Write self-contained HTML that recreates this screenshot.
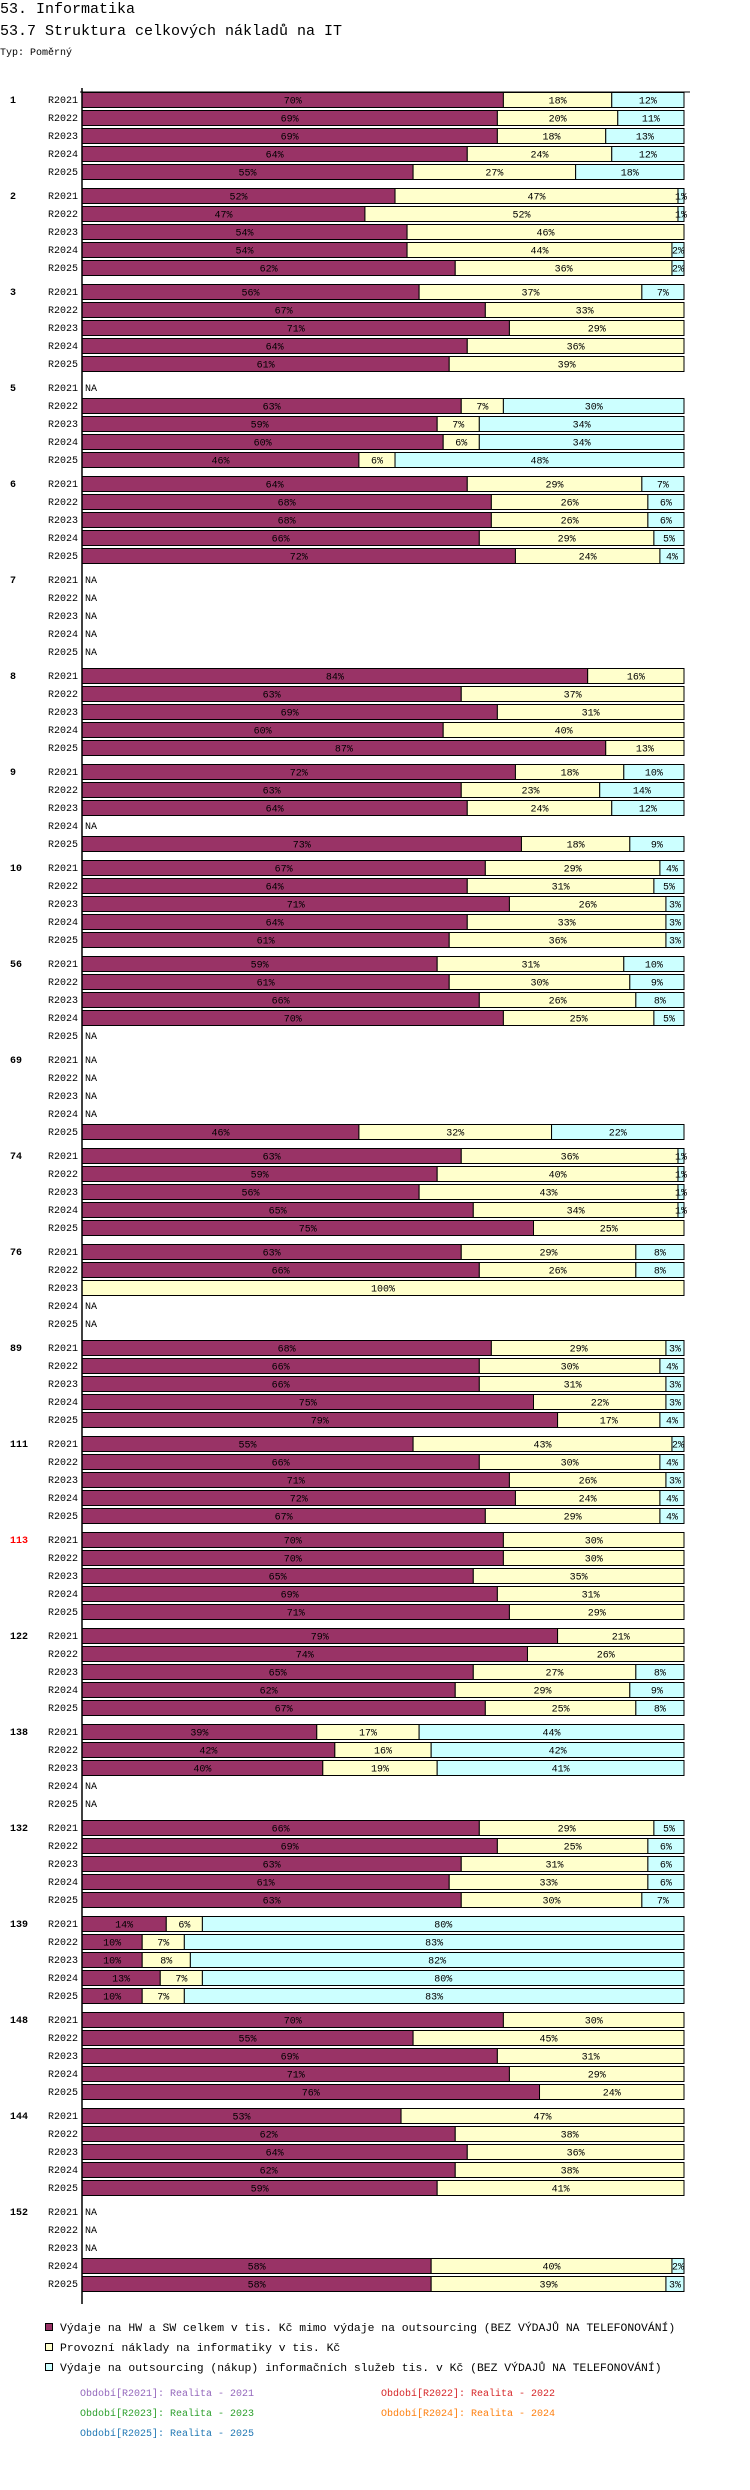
<!DOCTYPE html>
<html><head><meta charset="utf-8"><style>
html,body{margin:0;padding:0;background:#fff;width:750px;height:2490px;overflow:hidden}
svg{display:block}
text{font-family:"Liberation Mono",monospace}
</style></head><body>
<svg id="chart" width="750" height="2490" xmlns="http://www.w3.org/2000/svg">
<text x="0" y="13" font-size="15">53. Informatika</text>
<text x="0" y="35" font-size="15">53.7 Struktura celkových nákladů na IT</text>
<text x="0" y="55" font-size="10">Typ: Poměrný</text>
<g id="bars"></g>
<line x1="82" y1="88" x2="82" y2="2304" stroke="#000" stroke-width="1.5"/>
<line x1="80" y1="92" x2="690" y2="92" stroke="#000" stroke-width="1"/>
<g font-size="11.4">
<rect x="45.5" y="2323.5" width="7" height="7" fill="#993366" stroke="#000"/>
<text x="60" y="2331">Výdaje na HW a SW celkem v tis. Kč mimo výdaje na outsourcing (BEZ VÝDAJŮ NA TELEFONOVÁNÍ)</text>
<rect x="45.5" y="2343.5" width="7" height="7" fill="#ffffcc" stroke="#000"/>
<text x="60" y="2351">Provozní náklady na informatiky v tis. Kč</text>
<rect x="45.5" y="2363.5" width="7" height="7" fill="#ccffff" stroke="#000"/>
<text x="60" y="2371">Výdaje na outsourcing (nákup) informačních služeb tis. v Kč (BEZ VÝDAJŮ NA TELEFONOVÁNÍ)</text>
</g>
<g font-size="10">
<text x="80" y="2396" fill="#9467bd">Období[R2021]: Realita - 2021</text>
<text x="381" y="2396" fill="#d62728">Období[R2022]: Realita - 2022</text>
<text x="80" y="2416" fill="#2ca02c">Období[R2023]: Realita - 2023</text>
<text x="381" y="2416" fill="#ff7f0e">Období[R2024]: Realita - 2024</text>
<text x="80" y="2436" fill="#1f77b4">Období[R2025]: Realita - 2025</text>
</g>
</svg>
<script>
const groupLabels = ["1","2","3","5","6","7","8","9","10","56","69","74","76","89","111","113","122","138","132","139","148","144","152"];
const years = ["R2021","R2022","R2023","R2024","R2025"];
const N = null;
const hwSw = [
70,69,69,64,55, 52,47,54,54,62, 56,67,71,64,61, N,63,59,60,46, 64,68,68,66,72,
N,N,N,N,N, 84,63,69,60,87, 72,63,64,N,73, 67,64,71,64,61, 59,61,66,70,N,
N,N,N,N,46, 63,59,56,65,75, 63,66,0,N,N, 68,66,66,75,79, 55,66,71,72,67,
70,70,65,69,71, 79,74,65,62,67, 39,42,40,N,N, 66,69,63,61,63, 14,10,10,13,10,
70,55,69,71,76, 53,62,64,62,59, N,N,N,58,58];
const provozni = [
18,20,18,24,27, 47,52,46,44,36, 37,33,29,36,39, N,7,7,6,6, 29,26,26,29,24,
N,N,N,N,N, 16,37,31,40,13, 18,23,24,N,18, 29,31,26,33,36, 31,30,26,25,N,
N,N,N,N,32, 36,40,43,34,25, 29,26,100,N,N, 29,30,31,22,17, 43,30,26,24,29,
30,30,35,31,29, 21,26,27,29,25, 17,16,19,N,N, 29,25,31,33,30, 6,7,8,7,7,
30,45,31,29,24, 47,38,36,38,41, N,N,N,40,39];
const outsourcing = [
12,11,13,12,18, 1,1,0,2,2, 7,0,0,0,0, N,30,34,34,48, 7,6,6,5,4,
N,N,N,N,N, 0,0,0,0,0, 10,14,12,N,9, 4,5,3,3,3, 10,9,8,5,N,
N,N,N,N,22, 1,1,1,1,0, 8,8,0,N,N, 3,4,3,3,4, 2,4,3,4,4,
0,0,0,0,0, 0,0,8,9,8, 44,42,41,N,N, 5,6,6,6,7, 80,83,82,80,83,
0,0,0,0,0, 0,0,0,0,0, N,N,N,2,3];

const NS = "http://www.w3.org/2000/svg";
const X0 = 82, W = 602, TOP = 92, ROW = 18, GROUP = 96, BH = 15;
const xScale = p => p * W / 100;
const rowY = (g, r) => TOP + g * GROUP + r * ROW;
const colors = ["#993366", "#ffffcc", "#ccffff"];
const segNames = ["hw-sw", "provozni", "outsourcing"];
const series = [hwSw, provozni, outsourcing];
const svg = document.getElementById("chart");
const bars = document.getElementById("bars");
function mk(tag, attrs) { const e = document.createElementNS(NS, tag); for (const k in attrs) e.setAttribute(k, attrs[k]); return e; }

groupLabels.forEach((gl, g) => {
  const gt = mk("text", {x: 10, y: rowY(g, 0) + 11, "font-size": 10, "font-weight": "bold", fill: gl === "113" ? "#ff0000" : "#000"});
  
  
  gt.textContent = gl;
  svg.appendChild(gt);
  years.forEach((yr, r) => {
    const i = g * 5 + r;
    const y = rowY(g, r);
    const yt = mk("text", {x: 78, y: y + 11, "font-size": 10, "text-anchor": "end"});
    
    
    yt.textContent = yr;
    svg.appendChild(yt);
    if (hwSw[i] === null) {
      const na = mk("text", {x: 85, y: y + 11, "font-size": 10});
      
      
      na.textContent = "NA";
      svg.appendChild(na);
      return;
    }
    let acc = 0;
    series.forEach((s, k) => {
      const v = s[i];
      if (!v) return;
      const x = X0 + xScale(acc), w = xScale(v);
      const rect = mk("rect", {x: x, y: y + 0.5, width: w, height: BH, fill: colors[k], stroke: "#000", "stroke-width": 1});
      
      
      bars.appendChild(rect);
      const t = mk("text", {x: x + w / 2, y: y + 11.5, "font-size": 10, "text-anchor": "middle"});
      
      
      t.textContent = v + "%";
      bars.appendChild(t);
      acc += v;
    });
  });
});
</script>
</body></html>
